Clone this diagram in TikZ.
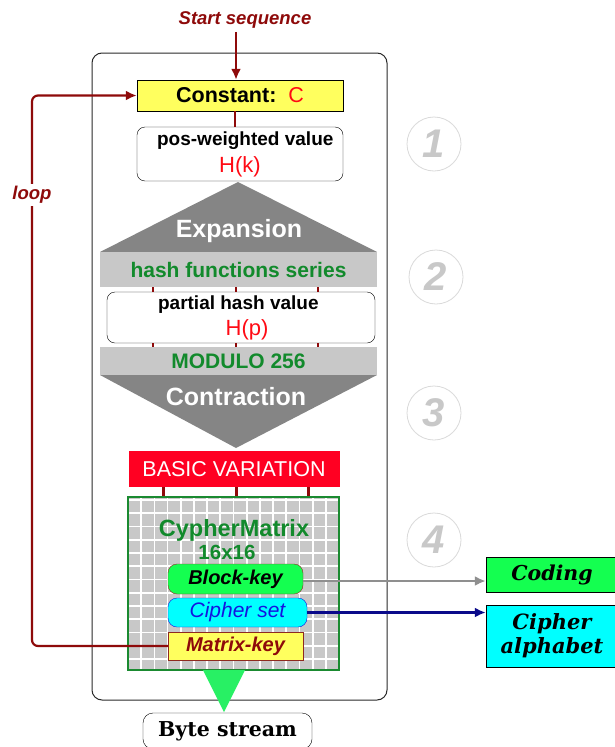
\documentclass[tikz,border=0pt]{standalone}
\usepackage{fontspec}
\setmainfont{Liberation Sans}
\newfontfamily\slabfont{DejaVu Serif}
\usepackage{tikz}
\usetikzlibrary{shapes, backgrounds, arrows.meta}

\definecolor{darkred}{HTML}{8E0A0A}
\definecolor{hred}{HTML}{FF0A14}
\definecolor{constyellow}{HTML}{FFFF5E}
\definecolor{txtgreen}{HTML}{128A2C}
\definecolor{bandgrey}{HTML}{C8C8C8}
\definecolor{trigrey}{HTML}{858585}
\definecolor{basicred}{HTML}{FF0022}
\definecolor{matgreen}{HTML}{1A8A30}
\definecolor{keygreen}{HTML}{14FF50}
\definecolor{keyborder}{HTML}{8E2A20}
\definecolor{ciphcyan}{HTML}{00FFFF}
\definecolor{cipherblue}{HTML}{1414E0}
\definecolor{navyline}{HTML}{0A0A8A}
\definecolor{greyline}{HTML}{8F8F8F}
\definecolor{streamgreen}{HTML}{28F064}
\definecolor{ringgrey}{HTML}{DADADA}
\definecolor{digitgrey}{HTML}{C8C8C8}
\definecolor{framegrey}{HTML}{2A2A2A}

\newcommand{\fsz}[1]{\fontsize{#1}{#1}\selectfont}

\begin{document}
\begin{tikzpicture}[x=1pt,y=-1pt]
  \tikzset{background rectangle/.style={fill=white}}
  \tikzset{show background rectangle, inner frame sep=0pt}
  \useasboundingbox (0,0) rectangle (614,747);

  \tikzset{flowbox/.style={rectangle, draw, inner sep=0pt, align=center}}
  \tikzset{roundbox/.style={flowbox, rounded corners=8pt}}
  \tikzset{band/.style={rectangle, fill=bandgrey, inner sep=0pt, minimum width=277pt, text=txtgreen}}
  \tikzset{stage/.style={circle, draw=ringgrey, line width=0.8pt, minimum size=54pt, inner sep=0pt, text=digitgrey, font=\bfseries\itshape\fsz{40}}}
  \tikzset{link/.style={draw=darkred, line width=2.2pt}}
  \tikzset{tick/.style={draw=darkred, line width=2.5pt}}
  \tikzset{tip/.style={-{Latex[length=11pt,width=10pt]}}}

  \node[draw=framegrey, line width=1pt, rounded corners=10pt, minimum width=295pt, minimum height=647pt] (frame) at (239.5,376.5) {};

  \node[text=darkred, font=\bfseries\itshape\fsz{18.5}] (start) at (245,20) {Start sequence};
  \node[flowbox, fill=constyellow, minimum width=206pt, minimum height=31pt, font=\bfseries\fsz{21.5}] (const) at (240,95.5) {Constant:\ \ \textcolor{hred}{\mdseries C}};
  \node[roundbox, fill=white, minimum width=206pt, minimum height=54pt] (posw) at (240,154)
    {{\bfseries\fsz{19}\ \ pos-weighted value}\\[6pt]{\color{hred}\fsz{22}H(k)}};

  \fill[trigrey] (238,182) -- (377,252) -- (100,252) -- cycle;
  \node[text=white, font=\bfseries\fsz{25}] (expand) at (239,231) {Expansion};

  \node[band, minimum height=35pt, font=\bfseries\fsz{21}] (hashfn) at (238.5,269.5) {hash functions series};
  \node[roundbox, fill=white, minimum width=268pt, minimum height=51pt] (parthash) at (241,317.5)
    {{\bfseries\fsz{19}partial hash value\ \ }\\[5pt]{\color{hred}\fsz{22}\ \ H(p)}};
  \node[band, minimum height=28pt, font=\bfseries\fsz{21}] (modulo) at (238.5,361) {MODULO 256};

  \fill[trigrey] (100,375) -- (377,375) -- (236,448) -- cycle;
  \node[text=white, font=\bfseries\fsz{25}] (contract) at (236,397) {Contraction};

  \foreach \dx in {-85.5,-2.5,79.5} {
    \draw[tick] ([xshift=\dx pt]hashfn.south) -- ([xshift=\dx pt]hashfn.south |- parthash.north);
    \draw[tick] ([xshift=\dx pt]modulo.north |- parthash.south) -- ([xshift=\dx pt]modulo.north);
  }

  \node[rectangle, fill=basicred, minimum width=211pt, minimum height=36pt, text=white, font=\fsz{21.5}] (basic) at (234,469) {BASIC VARIATION};

  \node[rectangle, draw=matgreen, line width=2pt, fill=bandgrey, minimum width=211pt, minimum height=173pt,
    path picture={
      \foreach \k in {1,...,15}
        \draw[white, line width=1.7pt] ([xshift=\k*13.19pt]path picture bounding box.north west) -- ([xshift=\k*13.19pt]path picture bounding box.south west);
      \foreach \k in {0,...,12}
        \draw[white, line width=1.7pt] ([yshift=-3pt-\k*13.25pt]path picture bounding box.north west) -- ([yshift=-3pt-\k*13.25pt]path picture bounding box.north east);
    }] (matrix) at (233.5,583.5) {};

  \foreach \dx in {-70.5,2.5,74.5}
    \draw[tick] ([xshift=\dx pt]basic.south) -- ([xshift=\dx pt]basic.south |- matrix.north);

  \node[text=txtgreen, font=\bfseries\fsz{23.5}] (mtitle) at (234,530) {CypherMatrix};
  \node[text=txtgreen, font=\bfseries\fsz{20.5}] (msize) at (227,552) {16x16};

  \node[roundbox, draw=keyborder, fill=keygreen, minimum width=135pt, minimum height=30pt, rounded corners=9pt, font=\bfseries\itshape\fsz{20}] (bkey) at (235.5,579) {Block-key};
  \node[roundbox, draw=cipherblue, fill=ciphcyan, minimum width=139pt, minimum height=29pt, rounded corners=9pt, text=cipherblue, font=\itshape\fsz{21}] (cset) at (237.5,612.5) {Cipher set};
  \node[flowbox, draw=keyborder, fill=constyellow, minimum width=135pt, minimum height=28pt, text=darkred, font=\bfseries\itshape\fsz{20}] (mkey) at (235.5,646) {Matrix-key};

  \fill[streamgreen] (203,670) -- (245,670) -- (224,712) -- cycle;
  \node[roundbox, fill=white, rounded corners=10pt, minimum width=169pt, minimum height=36pt, font=\slabfont\bfseries\fsz{20.5}] (bytes) at (227.5,731) {Byte stream};

  \node[stage] (s1) at (434,144) {1};
  \node[stage] (s2) at (436,277) {2};
  \node[stage] (s3) at (434,413) {3};
  \node[stage] (s4) at (434,540) {4};

  \node[flowbox, fill=keygreen, minimum width=132pt, minimum height=35pt, font=\slabfont\bfseries\itshape\fsz{20.5}] (coding) at (552,574.5) {Coding};
  \node[flowbox, fill=ciphcyan, minimum width=132pt, minimum height=62pt, font=\slabfont\bfseries\itshape\fsz{21}] (calpha) at (552,636) {Cipher\\[3pt]alphabet};

  \draw[link, tip] ([xshift=-9pt]start.south) -- ([xshift=-4pt]const.north);
  \draw[link] ([xshift=-5pt]const.south) -- ([xshift=-5pt]posw.north);
  \draw[draw=greyline, line width=2.2pt, tip] ([yshift=-2pt]bkey.east) -- ([yshift=-2pt]bkey.east -| coding.west);
  \draw[draw=navyline, line width=2.2pt, tip] (cset.east) -- (cset.east -| calpha.west);

  \coordinate (loopturn) at (32,646);
  \draw[link, tip, rounded corners=6pt] (mkey.west) -- (loopturn) |- (const.west);
  \node[fill=white, text=darkred, font=\bfseries\itshape\fsz{18.5}, inner sep=2pt] (looplabel) at (32,195) {loop};
\end{tikzpicture}
\end{document}
